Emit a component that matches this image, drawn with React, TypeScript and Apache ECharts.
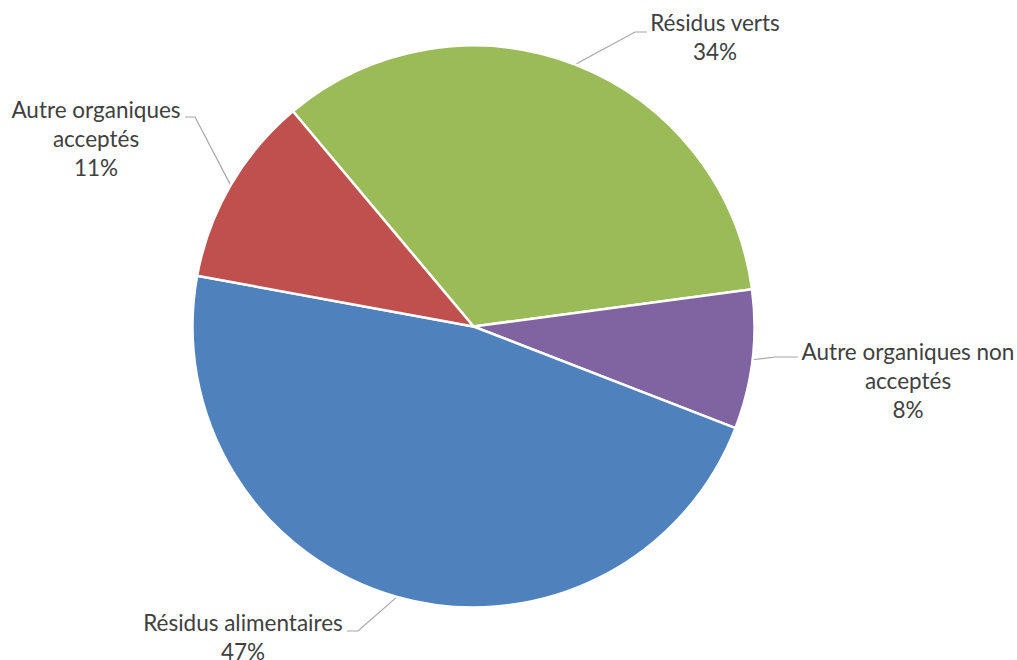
import React, { useEffect, useRef } from "react";
import * as echarts from "echarts";

// Composition of organic waste (share of total)
const categories = [
  "Résidus verts",
  "Autre organiques non acceptés",
  "Résidus alimentaires",
  "Autre organiques acceptés",
];
const values = [34, 8, 47, 11];
const colors = ["#9BBB59", "#8064A2", "#4F81BD", "#C0504D"];
// Wrapped label text for each category
const labelNames = [
  "Résidus verts",
  "Autre organiques non\nacceptés",
  "Résidus alimentaires",
  "Autre organiques\nacceptés",
];

// Label block centres and leader-line bends (px)
const labelCenters: [number, number][] = [
  [715, 37],
  [908, 380],
  [243, 637],
  [96, 138],
];
const leaderBends: [number, number][][] = [
  [[635, 32], [647, 32]],
  [[775, 357], [798, 357]],
  [[358, 631], [347, 631]],
  [[195, 117], [185, 117]],
];

const CX = 473.5;
const CY = 326.5;
const R = 281;
const START = 130;

export default function App() {
  const ref = useRef<HTMLDivElement>(null);

  useEffect(() => {
    if (!ref.current) return;
    const chart = echarts.init(ref.current, undefined, { renderer: "svg" });

    const total = values.reduce((a, b) => a + b, 0);
    // mid-angle of each slice, degrees, clockwise from START
    const mids: number[] = [];
    let acc = START;
    values.forEach((v) => {
      const sweep = (v / total) * 360;
      mids.push(acc - sweep / 2);
      acc -= sweep;
    });

    chart.setOption({
      animation: false,
      backgroundColor: "#ffffff",
      series: [
        {
          type: "pie",
          center: [CX, CY],
          radius: [0, R],
          startAngle: START,
          clockwise: true,
          avoidLabelOverlap: false,
          itemStyle: { borderColor: "#ffffff", borderWidth: 2.5 },
          label: {
            show: true,
            formatter: (p: any) => `${labelNames[p.dataIndex]}\n${p.percent.toFixed(0)}%`,
            fontFamily: "Lato",
            fontSize: 22.5,
            lineHeight: 29,
            color: "#404040",
            align: "center",
          },
          labelLine: {
            show: true,
            lineStyle: { color: "#A6A6A6", width: 1.2 },
          },
          labelLayout: (params: any) => {
            const i = params.dataIndex;
            const a = (mids[i] * Math.PI) / 180;
            const start = [CX + R * Math.cos(a), CY - R * Math.sin(a)];
            return {
              x: labelCenters[i][0],
              y: labelCenters[i][1],
              align: "center",
              verticalAlign: "middle",
              labelLinePoints: [start, ...leaderBends[i]],
            };
          },
          data: categories.map((name, i) => ({
            name,
            value: values[i],
            itemStyle: { color: colors[i] },
          })),
        },
      ],
    });

    return () => chart.dispose();
  }, []);

  return (
    <div
      ref={ref}
      style={{ position: "fixed", left: 0, top: 0, width: 1017, height: 660 }}
    />
  );
}
